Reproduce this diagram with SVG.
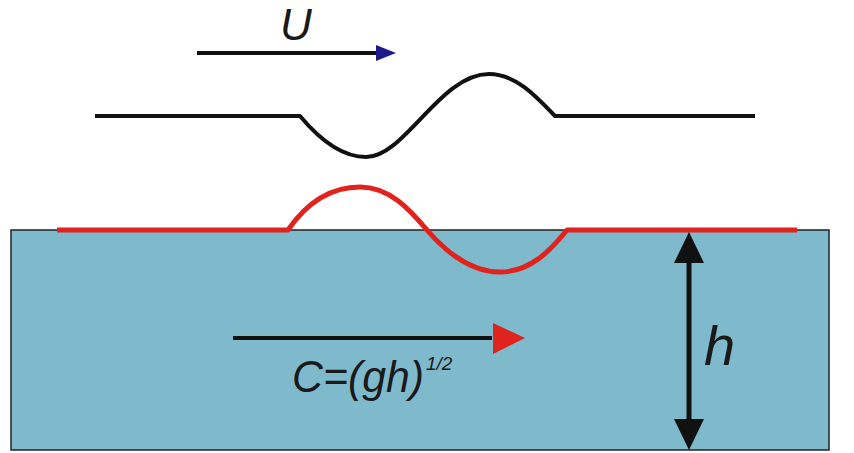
<svg xmlns="http://www.w3.org/2000/svg" width="854" height="453" viewBox="0 0 854 453">
<style>
.t{font-family:"Liberation Sans",Arial,sans-serif;font-style:italic;fill:#1a1a1a}
.ln{fill:none;stroke-linejoin:round}
</style>
<rect width="854" height="453" fill="#ffffff"/>
<g id="water">
<rect x="11" y="230" width="818" height="220" fill="#7fb9cc" stroke="#222" stroke-width="1.5"/>
</g>
<g id="surface">
<path class="ln" d="M57,230 L288,230 C308,201 333,187 360,187 C390,187 410,210 427,230 C446,252 470,272 500,272 C530,272 550,251 567,230 L797,230" stroke="#e0231c" stroke-width="5"/>
</g>
<g id="topwave">
<path class="ln" d="M95,116 L300,116 C320,140 343,157 366,157 C405,157 440,74 489,74 C515,74 535,95 555,116 L755,116" stroke="#111" stroke-width="4"/>
</g>
<g id="connectors">
<g id="u-arrow">
<line x1="197" y1="53" x2="378" y2="53" stroke="#111" stroke-width="4"/>
<polygon points="376,45 396,53 376,61" fill="#1f1a8c"/>
</g>
<g id="c-arrow">
<line x1="233" y1="338" x2="492" y2="338" stroke="#111" stroke-width="4"/>
<polygon points="493,323 525,338 493,354" fill="#e0231c"/>
</g>
<g id="h-arrow">
<line x1="689" y1="255" x2="689" y2="428" stroke="#111" stroke-width="5"/>
<polygon points="689,232 704,263 674,263" fill="#111"/>
<polygon points="689,450 704,419 674,419" fill="#111"/>
</g>
</g>
<g id="labels">
<text class="t" x="280" y="40" font-size="44">U</text>
<text class="t" x="292" y="392" font-size="44" textLength="132" lengthAdjust="spacingAndGlyphs">C=(gh)</text>
<text class="t" x="426" y="370" font-size="19">1/2</text>
<text class="t" x="704" y="365" font-size="56">h</text>
</g>
</svg>
